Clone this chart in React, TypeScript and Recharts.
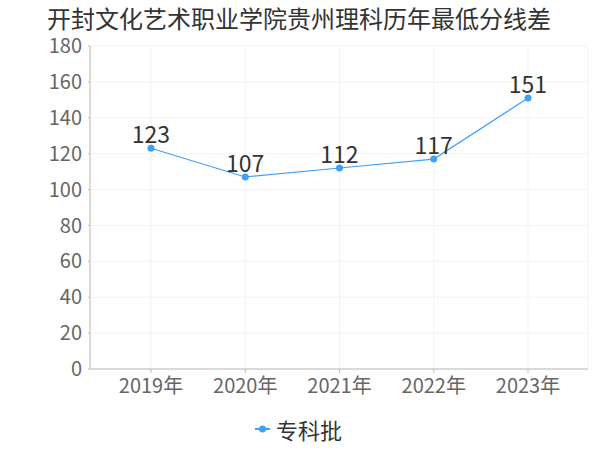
import { LineChart, Line, XAxis, YAxis, CartesianGrid, LabelList, Legend } from 'recharts'

const years = ['2019年', '2020年', '2021年', '2022年', '2023年']
const scores = [123, 107, 112, 117, 151]
const yTicks = [0, 20, 40, 60, 80, 100, 120, 140, 160, 180]

const data = years.map((year, i) => ({ year, score: scores[i] }))

const font = '"Noto Sans CJK SC", "DejaVu Sans", sans-serif'
const blue = '#3fa0fa'

function LegendBox() {
  return (
    <div style={{ display: 'flex', justifyContent: 'center', alignItems: 'center', fontFamily: font, fontSize: 22, color: '#333', paddingLeft: 8 }}>
      <svg width={18} height={12} style={{ marginRight: 4 }}>
        <line x1={1} y1={6} x2={16} y2={6} stroke={blue} strokeWidth={2} />
        <circle cx={8.5} cy={6} r={3.5} fill={blue} />
      </svg>
      <span>专科批</span>
    </div>
  )
}

export default function App() {
  return (
    <div style={{ position: 'absolute', left: 0, top: 0, width: 600, height: 450, background: '#fff', fontFamily: font }}>
      <div style={{ position: 'absolute', left: 47, top: 6, fontSize: 24, lineHeight: '24px', color: '#333', fontFamily: font, whiteSpace: 'nowrap' }}>
        开封文化艺术职业学院贵州理科历年最低分线差
      </div>
      <LineChart width={600} height={450} data={data} margin={{ top: 46, right: 12, bottom: 0, left: 0 }}>
        <CartesianGrid stroke="#f3f3f3" vertical horizontal />
        <XAxis
          dataKey="year"
          padding={{ left: 61, right: 60 }}
          height={44}
          tick={{ fontSize: 20, fill: '#666', fontFamily: font }}
          tickSize={4}
          tickMargin={6}
          axisLine={{ stroke: '#bbb' }}
          tickLine={{ stroke: '#bbb' }}
        />
        <YAxis
          domain={[0, 180]}
          ticks={yTicks}
          width={90}
          tick={{ fontSize: 20, fill: '#666', fontFamily: font }}
          tickSize={2}
          tickMargin={6}
          axisLine={{ stroke: '#bbb' }}
          tickLine={{ stroke: '#bbb' }}
          interval={0}
        />
        <Legend verticalAlign="bottom" height={37} content={() => <LegendBox />} wrapperStyle={{ bottom: 0 }} />
        <Line
          type="linear"
          dataKey="score"
          name="专科批"
          stroke={blue}
          strokeWidth={1.2}
          dot={{ r: 3.5, fill: blue, stroke: blue, strokeWidth: 0 }}
          isAnimationActive={false}
        >
          <LabelList dataKey="score" position="top" offset={5} style={{ fontSize: 23, fill: '#333', fontFamily: font }} />
        </Line>
      </LineChart>
    </div>
  )
}
